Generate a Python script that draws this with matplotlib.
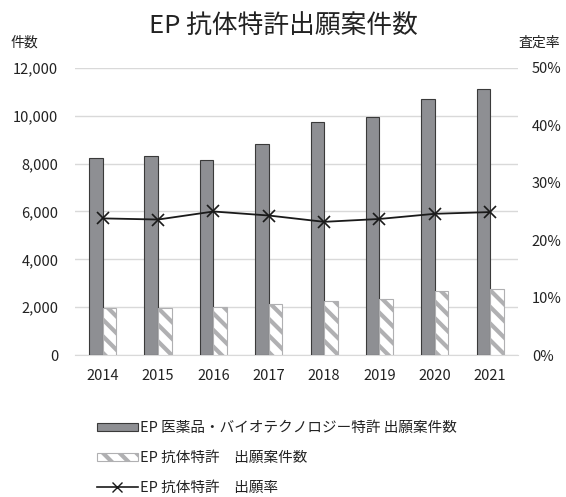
import matplotlib
matplotlib.use("Agg")
import matplotlib.pyplot as plt
import numpy as np
from matplotlib.patches import Patch
from matplotlib.lines import Line2D
from matplotlib.ticker import FuncFormatter

plt.rcParams['font.family'] = ['Noto Sans CJK JP', 'DejaVu Sans']
plt.rcParams['hatch.linewidth'] = 3.0
plt.rcParams['hatch.color'] = '#9a9a9c'

years = ['2014', '2015', '2016', '2017', '2018', '2019', '2020', '2021']
pharma_bio = [8240, 8310, 8140, 8810, 9760, 9940, 10710, 11140]
antibody = [1950, 1950, 2010, 2120, 2270, 2360, 2660, 2770]
rate = [23.8, 23.6, 25.0, 24.3, 23.2, 23.7, 24.6, 24.9]

labels = ['EP 医薬品・バイオテクノロジー特許 出願案件数',
          'EP 抗体特許\u3000出願案件数',
          'EP 抗体特許\u3000出願率']

fig = plt.figure(figsize=(5.66, 4.97), dpi=100)
ax = fig.add_axes([0.1325, 0.2857, 0.7825, 0.5775])
x = np.arange(len(years))
w = 0.245
ax.bar(x - w / 2, pharma_bio, w, color='#8e8f93', edgecolor='#3a3a3a', linewidth=0.8, zorder=3)
ax.bar(x + w / 2, antibody, w, color='white', edgecolor='#b0b0b2', hatch='\\\\', linewidth=0.8, zorder=3)
ax.set_ylim(0, 12000)
ax.set_yticks(np.arange(0, 12001, 2000))
ax.yaxis.set_major_formatter(FuncFormatter(lambda v, p: f'{int(v):,}'))
ax.set_xlim(-0.5, len(years) - 0.5)
ax.set_xticks(x)
ax.set_xticklabels(years)
ax.grid(axis='y', color='#d9d9d9', linewidth=1, zorder=0)
for s in ['top', 'right', 'left']:
    ax.spines[s].set_visible(False)
ax.spines['bottom'].set_color('#d9d9d9')
ax.tick_params(axis='both', length=0, labelsize=10.5, colors='#222222')
ax.tick_params(axis='y', pad=12)
ax.tick_params(axis='x', pad=10)

ax2 = ax.twinx()
ax2.plot(x, rate, color='#1a1a1a', marker='x', markersize=9, markeredgewidth=1.2, linewidth=1.3, zorder=5)
ax2.set_ylim(0, 50)
ax2.set_yticks(np.arange(0, 51, 10))
ax2.yaxis.set_major_formatter(FuncFormatter(lambda v, p: f'{int(v)}%'))
for s in ['top', 'right', 'left', 'bottom']:
    ax2.spines[s].set_visible(False)
ax2.tick_params(axis='y', length=0, labelsize=10.5, colors='#222222', pad=10)

fig.text(0.5, 0.948, 'EP 抗体特許出願案件数', ha='center', va='center', fontsize=18.5, color='#222222')
fig.text(0.018, 0.915, '件数', ha='left', va='center', fontsize=10, color='#222222')
fig.text(0.99, 0.915, '査定率', ha='right', va='center', fontsize=10, color='#222222')

handles = [
    Patch(facecolor='#8e8f93', edgecolor='#3a3a3a', linewidth=0.8),
    Patch(facecolor='white', edgecolor='#b0b0b2', hatch='\\\\', linewidth=0.8),
    Line2D([0], [0], color='#1a1a1a', marker='x', markersize=7, linewidth=1.2),
]
fig.legend(handles, labels, loc='upper left', bbox_to_anchor=(0.158, 0.168), frameon=False,
           fontsize=10.5, handlelength=2.8, handleheight=0.45, handletextpad=0.2,
           labelspacing=1.1, borderpad=0, labelcolor='#222222')

fig.savefig('out.png', dpi=100)
